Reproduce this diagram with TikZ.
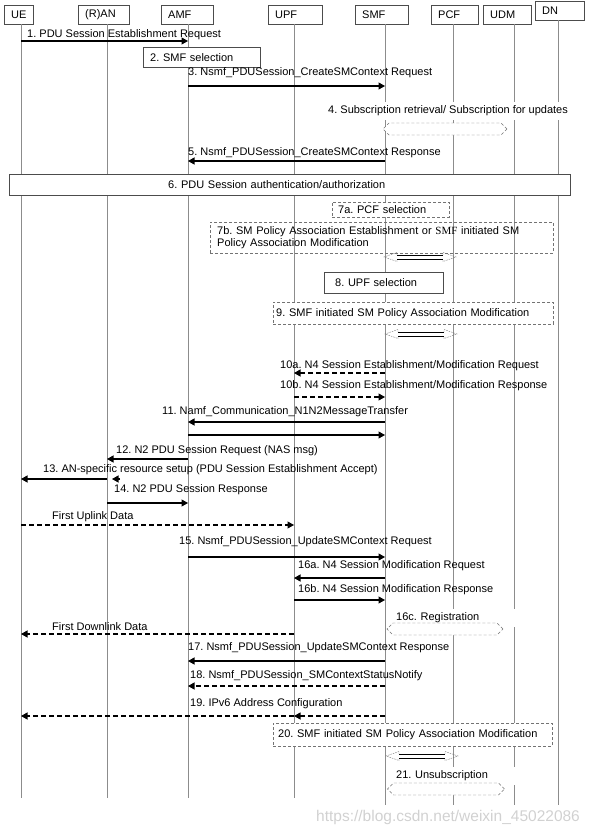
\documentclass[tikz,border=0pt]{standalone}
\usepackage{fontspec}
\setmainfont{Liberation Sans}
\newfontfamily\tnr{Liberation Serif}
\usetikzlibrary{arrows.meta,shapes.arrows}
\definecolor{life-gray}{gray}{0.55}
\definecolor{box-gray}{gray}{0.3}
\definecolor{dash-gray}{gray}{0.45}
\definecolor{mark-gray}{gray}{0.82}
\frenchspacing

\tikzset{
  hdr/.style={draw=box-gray, anchor=north west, minimum height=19pt, inner xsep=7pt, inner ysep=0pt, text width=#1, align=left},
  life/.style={draw=life-gray, line width=0.7pt},
  msg/.style={line width=1.1pt, -{Triangle[length=6.5pt,width=7pt]}},
  dmsg/.style={msg, dash pattern=on 5pt off 3pt},
  lbl/.style={anchor=west, inner sep=0pt},
  box/.style={draw=box-gray, fill=white, anchor=north west, inner xsep=7pt, inner ysep=0pt, align=left},
  dbox/.style={box, draw=dash-gray, dash pattern=on 3pt off 2pt},
  hexarrow/.style={shape=double arrow, double arrow head extend=0pt, draw=dash-gray, dash pattern=on 3pt off 2pt, fill=white, minimum height=#1, minimum width=12pt, inner sep=0pt},
  dblarrow/.pic={
    \draw[line width=0.6pt] (-23,-2) -- (23,-2) (-23,2) -- (23,2);
    \draw[dash-gray, dash pattern=on 1.5pt off 1pt] (-23,-2) -- (-23,-4.5) -- (-36,0) -- (-23,4.5) -- (-23,2);
    \draw[dash-gray, dash pattern=on 1.5pt off 1pt] (23,-2) -- (23,-4.5) -- (36,0) -- (23,4.5) -- (23,2);
  }
}

\begin{document}
\begin{tikzpicture}[x=1pt,y=-1pt,font=\fontsize{11}{12.5}\selectfont]
\useasboundingbox (0,0) rectangle (597,838);

\node[hdr=15pt] (ue) at (4,5) {UE};
\node[hdr=37pt] (ran) at (78,5) {(R)AN};
\node[hdr=38pt] (amf) at (161,5) {AMF};
\node[hdr=40pt] (upf) at (268,5) {UPF};
\node[hdr=39pt] (smf) at (355,5) {SMF};
\node[hdr=33pt] (pcf) at (431,5) {PCF};
\node[hdr=34pt] (udm) at (483,5) {UDM};
\node[hdr=35pt] (dn) at (535,1) {DN};

\coordinate (ue-l) at (21,0);
\coordinate (ran-l) at (107,0);
\coordinate (amf-l) at (188,0);
\coordinate (upf-l) at (294,0);
\coordinate (smf-l) at (385,0);
\coordinate (pcf-l) at (453,0);
\coordinate (udm-l) at (514,0);
\coordinate (dn-l) at (558,0);

\draw[life] (ue-l |- ue.south) -- (ue-l |- 0,798);
\draw[life] (ran-l |- ran.south) -- (ran-l |- 0,798);
\draw[life] (amf-l |- amf.south) -- (amf-l |- 0,798);
\draw[life] (upf-l |- upf.south) -- (upf-l |- 0,798);
\draw[life] (smf-l |- smf.south) -- (smf-l |- 0,805);
\draw[life] (pcf-l |- pcf.south) -- (pcf-l |- 0,805);
\draw[life] (udm-l |- udm.south) -- (udm-l |- 0,805);
\draw[life] (dn-l |- dn.south) -- (dn-l |- 0,805);

\node[lbl] (t1) at (27,35) {1. PDU Session Establishment Request};
\draw[msg] (ue-l |- 0,41) -- (amf-l |- 0,41);

\node[box, text width=103pt, minimum height=20pt] (s2) at (143,47) {2. SMF selection};

\node[lbl] (t3) at (188,73) {3. Nsmf\_PDUSession\_CreateSMContext Request};
\draw[msg] (amf-l |- 0,86) -- (smf-l |- 0,86);

\node[lbl, fill=white, inner ysep=4pt] (t4) at (328,111) {4. Subscription retrieval/ Subscription for updates};
\node[hexarrow=124pt] (r4) at (445,129) {};

\node[lbl] (t5) at (188,153) {5. Nsmf\_PDUSession\_CreateSMContext Response};
\draw[msg] (smf-l |- 0,161) -- (amf-l |- 0,161);

\node[box, inner xsep=159pt, text width=243pt, minimum height=21pt] (s6) at (9,174) {6. PDU Session authentication/authorization};

\node[dbox, inner xsep=6pt, text width=105pt, minimum height=15pt] (s7a) at (332,202) {7a. PCF selection};
\node[dbox, fill=none, text width=329pt, minimum height=31pt] (s7b) at (210,222) {7b. SM Policy Association Establishment or {\tnr SMF} initiated SM\\Policy Association Modification};
\pic at (420,257) {dblarrow};

\node[box, inner xsep=11pt, text width=97pt, minimum height=21pt] (s8) at (324,272) {8. UPF selection};

\node[dbox, inner xsep=3pt, text width=274pt, minimum height=22pt] (s9) at (273,302) {9. SMF initiated SM Policy Association Modification};
\pic at (421,334) {dblarrow};

\node[lbl] (t10a) at (280,366) {10a. N4 Session Establishment/Modification Request};
\draw[dmsg] (smf-l |- 0,373) -- (upf-l |- 0,373);
\node[lbl] (t10b) at (280,386) {10b. N4 Session Establishment/Modification Response};
\draw[dmsg] (upf-l |- 0,397) -- (smf-l |- 0,397);

\node[lbl] (t11) at (162,412) {11. Namf\_Communication\_N1N2MessageTransfer};
\draw[msg] (smf-l |- 0,422) -- (amf-l |- 0,422);
\draw[msg] (amf-l |- 0,435) -- (smf-l |- 0,435);

\node[lbl] (t12) at (116,451) {12. N2 PDU Session Request (NAS msg)};
\draw[msg] (amf-l |- 0,459) -- (ran-l |- 0,459);

\node[lbl] (t13) at (43,470) {13. AN-specific resource setup (PDU Session Establishment Accept)};
\draw[msg] (ran-l |- 0,479) -- (ue-l |- 0,479);
\draw[msg] (ran-l |- 0,479) ++(13,0) -- ++(-8,0);

\node[lbl] (t14) at (114,490) {14. N2 PDU Session Response};
\draw[msg] (ran-l |- 0,503) -- (amf-l |- 0,503);

\node[lbl] (tul) at (52,517) {First Uplink Data};
\draw[dmsg] (ue-l |- 0,525) -- (upf-l |- 0,525);

\node[lbl] (t15) at (179,542) {15. Nsmf\_PDUSession\_UpdateSMContext Request};
\draw[msg] (amf-l |- 0,557) -- (smf-l |- 0,557);

\node[lbl] (t16a) at (298,566) {16a. N4 Session Modification Request};
\draw[msg] (smf-l |- 0,578) -- (upf-l |- 0,578);
\node[lbl] (t16b) at (298,590) {16b. N4 Session Modification Response};
\draw[msg] (upf-l |- 0,600) -- (smf-l |- 0,600);

\node[lbl, fill=white, inner ysep=4pt, text width=124pt, align=left] (t16c) at (396,618) {16c. Registration};
\node[hexarrow=116pt] (r16c) at (445,629) {};

\node[lbl] (tdl) at (52,627) {First Downlink Data};
\draw[dmsg] (upf-l |- 0,634) -- (ue-l |- 0,634);

\node[lbl] (t17) at (188,648) {17. Nsmf\_PDUSession\_UpdateSMContext Response};
\draw[msg] (smf-l |- 0,661) -- (amf-l |- 0,661);

\node[lbl] (t18) at (190,676) {18. Nsmf\_PDUSession\_SMContextStatusNotify};
\draw[dmsg] (smf-l |- 0,686) -- (amf-l |- 0,686);

\node[lbl] (t19) at (190,704) {19. IPv6 Address Configuration};
\draw[dmsg] (smf-l |- 0,716) -- (upf-l |- 0,716);
\draw[dmsg] (upf-l |- 0,716) -- (ue-l |- 0,716);

\node[dbox, inner xsep=5pt, text width=269pt, minimum height=23pt] (s20) at (273,723) {20. SMF initiated SM Policy Association Modification};
\pic at (422,756) {dblarrow};

\node[lbl, fill=white, inner ysep=4pt, text width=124pt, align=left] (t21) at (396,776) {21. Unsubscription};
\node[hexarrow=117pt] (r21) at (446,789) {};

\node[lbl, text=mark-gray, font=\fontsize{15.5}{18}\selectfont] (wm) at (316,817) {https://blog.csdn.net/weixin\_45022086};

\end{tikzpicture}
\end{document}
